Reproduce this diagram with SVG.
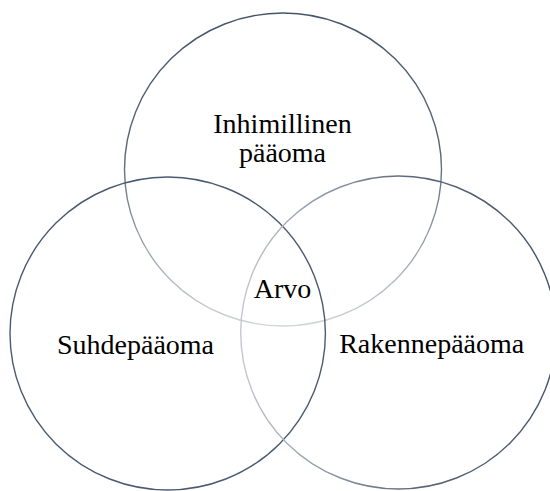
<svg xmlns="http://www.w3.org/2000/svg" width="550" height="491" viewBox="0 0 550 491">
  <style>
    .lbl { font-family: "Liberation Serif", "Times New Roman", serif; font-size: 28px; fill: #000; text-anchor: middle; }
    .ring { fill: none; stroke-width: 1.4; }
  </style>
  <defs>
    <linearGradient id="gTop" x1="0" y1="0" x2="0" y2="1">
      <stop offset="0" stop-color="#44546a"/>
      <stop offset="0.45" stop-color="#5a6679"/>
      <stop offset="1" stop-color="#d2d5da"/>
    </linearGradient>
    <linearGradient id="gRight" x1="1" y1="0" x2="0" y2="0">
      <stop offset="0" stop-color="#44546a"/>
      <stop offset="0.45" stop-color="#5a6679"/>
      <stop offset="1" stop-color="#c4c8cf"/>
    </linearGradient>
  </defs>
  <rect width="550" height="491" fill="#ffffff"/>
  <g id="inhimillinen">
    <ellipse class="ring" cx="283" cy="169.5" rx="158.5" ry="156.5" stroke="url(#gTop)"/>
    <text class="lbl" x="282.5" y="133.3">Inhimillinen</text>
    <text class="lbl" x="282.5" y="162.3">pääoma</text>
  </g>
  <g id="suhde">
    <ellipse class="ring" cx="167.7" cy="333.5" rx="157.7" ry="156.5" stroke="#4a5a70"/>
    <text class="lbl" x="135.5" y="354.3">Suhdepääoma</text>
  </g>
  <g id="rakenne">
    <ellipse class="ring" cx="398.4" cy="332.5" rx="157.7" ry="156.5" stroke="url(#gRight)"/>
    <text class="lbl" x="431.7" y="352.7">Rakennepääoma</text>
  </g>
  <g id="arvo">
    <text class="lbl" x="282.5" y="298.3">Arvo</text>
  </g>
  <g id="connectors"/>
</svg>
